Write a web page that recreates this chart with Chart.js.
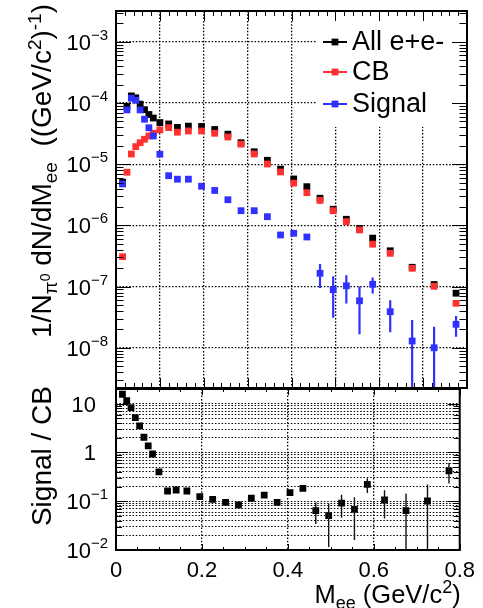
<!DOCTYPE html>
<html>
<head>
<meta charset="utf-8">
<script src="https://cdn.jsdelivr.net/npm/chart.js@4.4.0/dist/chart.umd.min.js"></script>
<style>
  html, body { margin: 0; padding: 0; background: #fff; }
  #wrap { position: relative; width: 483px; height: 608px; overflow: hidden; }
  #topPanel { position: absolute; left: 0; top: 0; }
  #ratioPanel { position: absolute; left: 0; top: 384px; }
</style>
</head>
<body>
<div id="wrap">
  <canvas id="topPanel" width="483" height="392" style="width:483px;height:392px"></canvas>
  <canvas id="ratioPanel" width="483" height="224" style="width:483px;height:224px"></canvas>
</div>
<script>
// Invariant-mass bin centres (GeV/c^2)
const massBins = [0.015, 0.025, 0.035, 0.045, 0.055, 0.065, 0.075, 0.085, 0.100, 0.120,
                  0.140, 0.165, 0.195, 0.225, 0.255, 0.285, 0.315, 0.345, 0.375, 0.405,
                  0.435, 0.465, 0.495, 0.525, 0.555, 0.585, 0.625, 0.675, 0.725, 0.775];

// 1/N dN/dM for all e+e- pairs
const allPairs = [5.1e-6, 8.75e-5, 1.31e-4, 1.22e-4, 9.6e-5, 7.8e-5, 6.5e-5, 5.7e-5, 4.8e-5, 4.56e-5,
                  4.0e-5, 4.2e-5, 4.15e-5, 3.7e-5, 3.1e-5, 2.25e-5, 1.6e-5, 1.16e-5, 8.3e-6, 5.75e-6,
                  4.3e-6, 2.78e-6, 1.84e-6, 1.26e-6, 8.9e-7, 6.2e-7, 3.85e-7, 2.07e-7, 1.08e-7, 7.8e-8];

// combinatorial background
const combBkg = [3.08e-7, 7.4e-6, 1.47e-5, 1.94e-5, 2.25e-5, 2.56e-5, 2.9e-5, 3.21e-5, 3.64e-5, 3.97e-5,
                 3.34e-5, 3.5e-5, 3.5e-5, 3.21e-5, 2.79e-5, 2.13e-5, 1.47e-5, 1.01e-5, 7.48e-6, 4.91e-6,
                 3.43e-6, 2.56e-6, 1.74e-6, 1.15e-6, 8.43e-7, 4.93e-7, 3.5e-7, 1.99e-7, 1.01e-7, 5.33e-8];

// signal after background subtraction, with statistical errors (null = hidden by marker)
const signal = [4.76e-6, 7.73e-5, 1.2e-4, 1.11e-4, 7.73e-5, 5.45e-5, 3.95e-5, 2.9e-5, 1.46e-5, 6.5e-6,
                5.7e-6, 5.7e-6, 4.37e-6, 3.73e-6, 2.63e-6, 1.74e-6, 1.74e-6, 1.39e-6, 6.98e-7, 7.44e-7,
                6.47e-7, 1.65e-7, 8.9e-8, 1.03e-7, 5.86e-8, 1.09e-7, 3.89e-8, 1.29e-8, 1.0e-8, 2.42e-8];
const signalErr = [null, null, null, null, null, null, null, null, null, null,
                   null, null, null, null, null, null, null, null, null, null,
                   null, 7e-8, 5.8e-8, 5e-8, 4.2e-8, 3.2e-8, 2.1e-8, 1.55e-8, 1.2e-8, 9e-9];

// signal / CB ratio
const ratio = [15.6, 11.5, 8.3, 5.2, 3.5, 2.05, 1.37, 0.93, 0.40, 0.162,
               0.17, 0.162, 0.124, 0.109, 0.095, 0.084, 0.115, 0.134, 0.095, 0.15,
               0.184, 0.064, 0.0505, 0.091, 0.068, 0.222, 0.106, 0.064, 0.101, 0.42];
const ratioErr = [null, null, null, null, null, null, null, null, null, null,
                  null, null, null, null, null, null, null, null, null, null,
                  null, 0.03, 0.039, 0.045, 0.052, 0.075, 0.062, 0.08, 0.12, 0.19];

// axis ticks
const topDecades = [1e-8, 1e-7, 1e-6, 1e-5, 1e-4, 1e-3];
const topDecadeExp = ['\u22128', '\u22127', '\u22126', '\u22125', '\u22124', '\u22123'];
const ratioDecades = [0.01, 0.1, 1, 10];
const ratioDecadeLabels = [['10', '\u22122'], ['10', '\u22121'], ['1', ''], ['10', '']];
const xTickLabels = ['0', '0.2', '0.4', '0.6', '0.8'];

const FONT = '"Liberation Sans", Arial, Helvetica, sans-serif';
const BLACK = '#000000';
const RED = '#ff3030';
const BLUE = '#3030ff';
const GRID = '#000000';
const GRID_DASH = [1.5, 1.8];
const GRID_W = 1.3;
const LABEL_PX = 22;
const TITLE_PX = 28;
const XTITLE_PX = 25.5;
const SUB_PX = 19;

function points(vals) {
  return massBins.map((m, i) => ({ x: m, y: vals[i] }));
}

function minorLog(lo, hi, eLo, eHi) {
  const out = [];
  for (let e = eLo; e <= eHi; e++) {
    for (let k = 2; k <= 9; k++) {
      const v = k * Math.pow(10, e);
      if (v > lo && v < hi) out.push(v);
    }
  }
  return out;
}

function stepRange(lo, hi, step) {
  const out = [];
  const n = Math.round((hi - lo) / step);
  for (let i = 0; i <= n; i++) out.push(+(lo + i * step).toFixed(6));
  return out;
}

function richWidth(ctx, segs) {
  let w = 0;
  for (const s of segs) { ctx.font = s.size + 'px ' + FONT; w += ctx.measureText(s.t).width; }
  return w;
}

function drawRich(ctx, segs, x, y) {
  let cx = x;
  ctx.textAlign = 'left';
  ctx.textBaseline = 'alphabetic';
  for (const s of segs) {
    ctx.font = s.size + 'px ' + FONT;
    ctx.fillText(s.t, cx, y + (s.dy || 0));
    cx += ctx.measureText(s.t).width;
  }
}

// "10" with a raised exponent, right-aligned at xRight, centred on yMid
function drawPowLabel(ctx, base, exp, xRight, yMid) {
  const segs = [{ t: base, size: LABEL_PX, dy: 0 }];
  if (exp) segs.push({ t: exp, size: 15, dy: -10 });
  const w = richWidth(ctx, segs);
  drawRich(ctx, segs, xRight - w, yMid + 8);
}

// ROOT-style frame with inward ticks on all four sides
function drawFrame(chart, t) {
  const { ctx, chartArea: a } = chart;
  const x = chart.scales.x, y = chart.scales.y;
  ctx.save();
  ctx.strokeStyle = BLACK;
  ctx.lineWidth = 1;
  ctx.beginPath();
  const yTick = (v, len) => {
    const p = Math.round(y.getPixelForValue(v)) + 0.5;
    if (p < a.top || p > a.bottom) return;
    ctx.moveTo(a.left, p); ctx.lineTo(a.left + len, p);
    ctx.moveTo(a.right, p); ctx.lineTo(a.right - len, p);
  };
  const xTick = (v, len) => {
    const p = Math.round(x.getPixelForValue(v)) + 0.5;
    ctx.moveTo(p, a.bottom); ctx.lineTo(p, a.bottom - len);
    ctx.moveTo(p, a.top); ctx.lineTo(p, a.top + len);
  };
  t.yMinor.forEach(v => yTick(v, t.yMinorLen));
  t.yMajor.forEach(v => yTick(v, t.yMajorLen));
  t.xMinor.forEach(v => xTick(v, t.xMinorLen));
  t.xMajor.forEach(v => xTick(v, t.xMajorLen));
  ctx.stroke();
  ctx.lineWidth = 2;
  ctx.strokeRect(a.left, a.top, a.right - a.left, a.bottom - a.top);
  ctx.restore();
}

// vertical error bars for one series
function drawErrors(chart, vals, errs, color, width) {
  const { ctx, chartArea: a } = chart;
  const x = chart.scales.x, y = chart.scales.y;
  ctx.save();
  ctx.beginPath();
  ctx.rect(a.left, a.top, a.right - a.left, a.bottom - a.top);
  ctx.clip();
  ctx.strokeStyle = color;
  ctx.lineWidth = width;
  ctx.beginPath();
  massBins.forEach((m, i) => {
    const e = errs[i];
    if (e == null) return;
    const px = x.getPixelForValue(m);
    const hi = y.getPixelForValue(vals[i] + e);
    const lowVal = vals[i] - e;
    const lo = lowVal > 0 ? Math.min(y.getPixelForValue(lowVal), a.bottom) : a.bottom;
    ctx.moveTo(px, hi); ctx.lineTo(px, lo);
  });
  ctx.stroke();
  ctx.restore();
}

const seriesStyle = (color) => ({
  backgroundColor: color, borderColor: color, borderWidth: 0,
  pointStyle: 'rect', pointRadius: 4.8, pointHoverRadius: 4.8, showLine: false
});

const gridOpts = { drawTicks: false, color: GRID, lineWidth: GRID_W };

// ---------- upper panel: spectra ----------
const LEGEND_BOX = { left: 316, bottom: 127 };
const legendRows = [42, 72, 104];

const spectraDecor = {
  id: 'spectraDecor',
  beforeDatasetsDraw(chart) {
    const { ctx, chartArea: a } = chart;
    ctx.save();
    ctx.fillStyle = '#fff';
    ctx.fillRect(LEGEND_BOX.left, a.top, a.right - LEGEND_BOX.left, LEGEND_BOX.bottom - a.top);
    ctx.restore();
  },
  afterDatasetsDraw(chart) {
    drawErrors(chart, signal, signalErr, BLUE, 2.2);
  },
  afterDraw(chart) {
    const { ctx } = chart;
    const y = chart.scales.y;
    drawFrame(chart, {
      yMajor: topDecades, yMinor: minorLog(2.2e-9, 3.2e-3, -9, -3),
      xMajor: stepRange(0, 0.8, 0.1), xMinor: stepRange(0, 0.8, 0.02),
      yMajorLen: 15, yMinorLen: 7.5, xMajorLen: 10, xMinorLen: 5
    });
    ctx.save();
    ctx.fillStyle = BLACK;
    topDecades.forEach((v, i) => drawPowLabel(ctx, '10', topDecadeExp[i], 108, y.getPixelForValue(v)));

    // y title
    const segs = [
      { t: '1/N', size: TITLE_PX, dy: 0 },
      { t: '\u03c0', size: SUB_PX, dy: 6 },
      { t: '0', size: 14, dy: -1 },
      { t: ' dN/dM', size: TITLE_PX, dy: 0 },
      { t: 'ee', size: SUB_PX, dy: 6 },
      { t: '  ((GeV/c', size: TITLE_PX, dy: 0 },
      { t: '2', size: SUB_PX, dy: -10 },
      { t: ')', size: TITLE_PX, dy: 0 },
      { t: '-1', size: SUB_PX, dy: -10 },
      { t: ')', size: TITLE_PX, dy: 0 }
    ];
    const w = richWidth(ctx, segs);
    ctx.translate(51, 4 + w);
    ctx.rotate(-Math.PI / 2);
    drawRich(ctx, segs, 0, 0);
    ctx.restore();

    // legend entries
    ctx.save();
    const order = [2, 1, 0];
    order.forEach((di, row) => {
      const ds = chart.data.datasets[di];
      const cy = legendRows[row];
      ctx.strokeStyle = ds.borderColor;
      ctx.lineWidth = 2;
      ctx.beginPath();
      ctx.moveTo(323, cy); ctx.lineTo(347, cy);
      ctx.stroke();
      ctx.fillStyle = ds.backgroundColor;
      ctx.fillRect(335 - 3.4, cy - 3.4, 6.8, 6.8);
      ctx.fillStyle = BLACK;
      ctx.font = '27px ' + FONT;
      ctx.textAlign = 'left';
      ctx.textBaseline = 'middle';
      ctx.fillText(ds.label, 352, cy + 1);
    });
    ctx.restore();
  }
};

new Chart(document.getElementById('topPanel'), {
  type: 'scatter',
  data: {
    datasets: [
      Object.assign({ label: 'Signal', data: points(signal) }, seriesStyle(BLUE)),
      Object.assign({ label: 'CB', data: points(combBkg) }, seriesStyle(RED)),
      Object.assign({ label: 'All e+e-', data: points(allPairs) }, seriesStyle(BLACK))
    ]
  },
  options: {
    responsive: false,
    animation: false,
    events: [],
    layout: { padding: { left: 0, right: 16, top: 11, bottom: 4 }, autoPadding: false },
    plugins: { legend: { display: false }, tooltip: { enabled: false } },
    scales: {
      x: {
        type: 'linear', min: 0, max: 0.8,
        ticks: { display: false, stepSize: 0.1 },
        grid: gridOpts,
        border: { display: false, dash: GRID_DASH },
        afterFit(s) { s.height = 0; }
      },
      y: {
        type: 'logarithmic', min: 2.2e-9, max: 3.2e-3,
        ticks: { display: false },
        afterBuildTicks(s) { s.ticks = topDecades.map(v => ({ value: v })); },
        grid: gridOpts,
        border: { display: false, dash: GRID_DASH },
        afterFit(s) { s.width = 116; }
      }
    }
  },
  plugins: [spectraDecor]
});

// ---------- lower panel: Signal / CB ----------
const ratioGrid = ratioDecades.concat(minorLog(0.01, 20, -2, 1)).sort((a, b) => a - b);

const ratioDecor = {
  id: 'ratioDecor',
  afterDatasetsDraw(chart) {
    drawErrors(chart, ratio, ratioErr, '#111', 1.4);
  },
  afterDraw(chart) {
    const { ctx, chartArea: a } = chart;
    const y = chart.scales.y;
    drawFrame(chart, {
      yMajor: ratioDecades, yMinor: minorLog(0.01, 20, -2, 1),
      xMajor: stepRange(0, 0.8, 0.2), xMinor: stepRange(0, 0.8, 0.05),
      yMajorLen: 12, yMinorLen: 6, xMajorLen: 6, xMinorLen: 3
    });
    ctx.save();
    ctx.fillStyle = BLACK;
    ratioDecades.forEach((v, i) => {
      const [b, e] = ratioDecadeLabels[i];
      drawPowLabel(ctx, b, e, e ? 108 : 96, y.getPixelForValue(v));
    });

    // x title
    const xs = [
      { t: 'M', size: XTITLE_PX, dy: 0 },
      { t: 'ee', size: 18, dy: 6 },
      { t: ' (GeV/c', size: XTITLE_PX, dy: 0 },
      { t: '2', size: 18, dy: -10 },
      { t: ')', size: XTITLE_PX, dy: 0 }
    ];
    const wx = richWidth(ctx, xs);
    drawRich(ctx, xs, a.right + 1 - wx, 219);

    // y title
    const ys = [{ t: 'Signal / CB', size: TITLE_PX, dy: 0 }];
    const wy = richWidth(ctx, ys);
    ctx.translate(51, -3 + wy + a.top);
    ctx.rotate(-Math.PI / 2);
    drawRich(ctx, ys, 0, 0);
    ctx.restore();
  }
};

new Chart(document.getElementById('ratioPanel'), {
  type: 'scatter',
  data: {
    datasets: [
      Object.assign({ label: 'Signal / CB', data: points(ratio) }, seriesStyle(BLACK))
    ]
  },
  options: {
    responsive: false,
    animation: false,
    events: [],
    layout: { padding: { left: 0, right: 16, top: 5, bottom: 0 }, autoPadding: false },
    plugins: { legend: { display: false }, tooltip: { enabled: false } },
    scales: {
      x: {
        type: 'linear', min: 0, max: 0.8,
        ticks: {
          stepSize: 0.2, color: BLACK, padding: 8, maxRotation: 0, autoSkip: false,
          font: { family: FONT, size: LABEL_PX },
          callback: (v, i) => xTickLabels[i]
        },
        grid: gridOpts,
        border: { display: false, dash: GRID_DASH },
        afterFit(s) { s.height = 58; }
      },
      y: {
        type: 'logarithmic', min: 0.01, max: 20,
        ticks: { display: false },
        afterBuildTicks(s) { s.ticks = ratioGrid.map(v => ({ value: v })); },
        grid: { drawTicks: false, color: GRID, lineWidth: 1 },
        border: { display: false, dash: GRID_DASH },
        afterFit(s) { s.width = 116; }
      }
    }
  },
  plugins: [ratioDecor]
});
</script>
</body>
</html>
